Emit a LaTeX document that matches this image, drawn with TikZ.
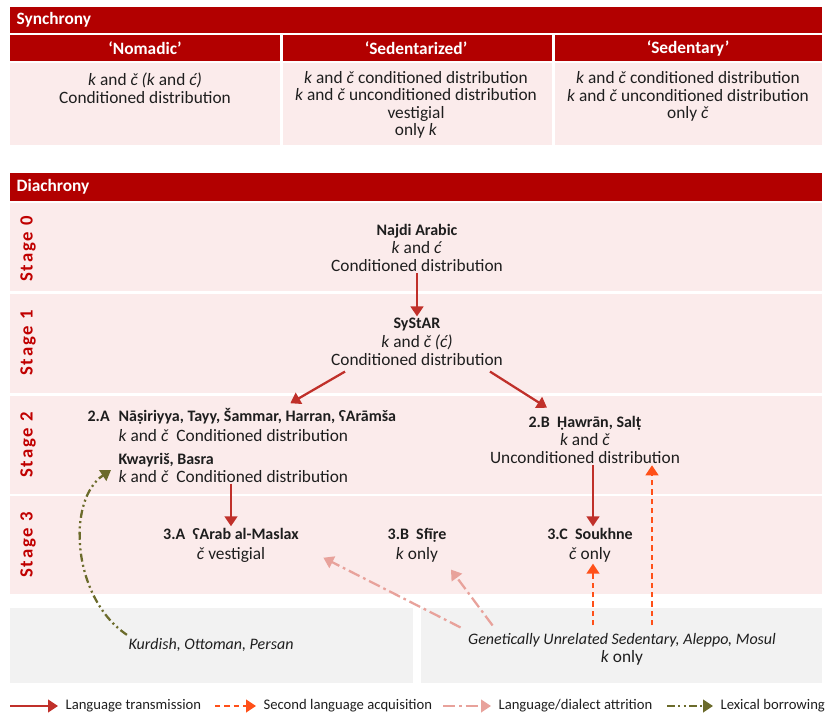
\documentclass[tikz,border=0pt]{standalone}
\usepackage{fontspec}
\setmainfont{Carlito}
\usetikzlibrary{arrows.meta,calc}

\definecolor{hdrred}{HTML}{B20000}
\definecolor{rowpink}{HTML}{FBEBEB}
\definecolor{boxgrey}{HTML}{F2F2F2}
\definecolor{stagered}{HTML}{C00000}
\definecolor{transred}{HTML}{C0302A}
\definecolor{acqorange}{HTML}{FF5019}
\definecolor{attrpink}{HTML}{E8A29B}
\definecolor{borrolive}{HTML}{6B6B2B}
\definecolor{inkgrey}{HTML}{1E1E1E}

\newcommand{\dialect}[1]{{\fontsize{12}{13.5}\selectfont\bfseries #1}}
\newcommand{\contact}[1]{{\fontsize{12}{13.5}\selectfont\itshape #1}}

\tikzset{
  hdrtxt/.style={text=white,inner sep=1pt,font=\fontsize{13}{15}\selectfont\bfseries},
  stagelbl/.style={text=stagered,rotate=90,inner sep=1pt,font=\fontsize{14}{16}\selectfont\bfseries\addfontfeatures{LetterSpace=10}},
  txt/.style={text=inkgrey,align=center,inner sep=1pt,font=\fontsize{13}{13.5}\selectfont},
  legtxt/.style={text=inkgrey,inner sep=1pt,anchor=west,font=\fontsize{11}{13}\selectfont},
  tip/.style={-{Triangle[length=7.5pt,width=9.5pt]}},
  trans/.style={tip,draw=transred,line width=1.7pt},
  acq/.style={tip,draw=acqorange,line width=1.7pt,dash pattern=on 4pt off 3pt},
  attr/.style={tip,draw=attrpink,line width=1.7pt,dash pattern=on 9pt off 3pt on 2pt off 3pt},
  borr/.style={tip,draw=borrolive,line width=1.7pt,dash pattern=on 6pt off 2.5pt on 1.5pt off 2.5pt on 1.5pt off 2.5pt}
}

\begin{document}
\begin{tikzpicture}[x=0.75pt,y=-0.75pt]
  \useasboundingbox (0,0) rectangle (825,715);

  % synchrony table
  \fill[hdrred] (10,7) rectangle (822,33);
  \foreach \xa/\xb in {10/280,283/552,555/822}
  {
    \fill[hdrred] (\xa,35) rectangle (\xb,61);
    \fill[rowpink] (\xa,63) rectangle (\xb,145);
  }
  \node[hdrtxt,anchor=west] (sync) at (15,20) {Synchrony};
  \node[hdrtxt] (nomHd) at (145,48) {‘Nomadic’};
  \node[hdrtxt] (sedzHd) at (416,48) {‘Sedentarized’};
  \node[hdrtxt] (sedHd) at (688,48) {‘Sedentary’};

  \node[txt] (nomTx) at (145,88) {\textit{k} and \textit{č (k} and \textit{ć)}\\Conditioned distribution};
  \node[txt,font=\fontsize{13}{13}\selectfont] (sedzTx) at (416,105)
    {\textit{k} and \textit{č} conditioned distribution\\\textit{k} and \textit{č} unconditioned distribution\\vestigial\\only \textit{k}};
  \node[txt,font=\fontsize{13}{13}\selectfont] (sedTx) at (688,96.5)
    {\textit{k} and \textit{č} conditioned distribution\\\textit{k} and \textit{č} unconditioned distribution\\only \textit{č}};

  % diachrony rows
  \fill[hdrred] (10,173) rectangle (822,201);
  \node[hdrtxt,anchor=west] (diach) at (15,187) {Diachrony};
  \foreach \ya/\yb in {203/291,294/393,396/494,496/594}
    \fill[rowpink] (10,\ya) rectangle (822,\yb);
  \fill[boxgrey] (10,608) rectangle (413,683);
  \fill[boxgrey] (421,608) rectangle (822,683);
  \foreach \n/\y in {0/249,1/343,2/445,3/545}
    \node[stagelbl] (stage\n) at (28,\y) {Stage \n};

  % stage 0 and 1
  \node[txt] (najdi) at (417,248) {\dialect{Najdi Arabic}\\\textit{k} and \textit{ć}\\Conditioned distribution};
  \node[txt] (systar) at (417,342) {\dialect{SyStAR}\\[1pt]\textit{k} and \textit{č (ć)}\\Conditioned distribution};

  % stage 2
  \node[txt,anchor=base west] (twoAtag) at (86,421) {\dialect{2.A}};
  \node[txt,anchor=base west] (twoAname) at (117,421) {\dialect{Nāṣiriyya, Tayy, Šammar, Harran, ʕArāmša}};
  \node[txt,anchor=base west] (twoAdist) at (117,441) {\textit{k} and \textit{č}\ \ Conditioned distribution};
  \node[txt,anchor=base west] (kwa) at (117,464) {\dialect{Kwayriš, Basra}};
  \node[txt,anchor=base west] (kwadist) at (117,482) {\textit{k} and \textit{č}\ \ Conditioned distribution};
  \node[txt] (twoB) at (585,440) {\dialect{2.B\ \ Ḥawrān, Salṭ}\\\textit{k} and \textit{č}\\Unconditioned distribution};

  % stage 3
  \node[txt] (threeA) at (231,545) {\dialect{3.A\ \ ʕArab al-Maslax}\\[1.5pt]\textit{č} vestigial};
  \node[txt] (threeB) at (417,545) {\dialect{3.B\ \ Sfīṛe}\\[1.5pt]\textit{k} only};
  \node[txt] (threeC) at (590,545) {\dialect{3.C\ \ Soukhne}\\[1.5pt]\textit{č} only};

  % contact languages
  \node[txt] (kurd) at (211,645) {\contact{Kurdish, Ottoman, Persan}};
  \node[txt] (genet) at (622,649) {\contact{Genetically Unrelated Sedentary, Aleppo, Mosul}\\\textit{k} only};

  % transmission
  \draw[trans] (najdi) -- (systar);
  \draw[trans] ($(systar.south)+(-72,4)$) -- ($(twoAname.north)+(33,-3)$);
  \draw[trans] ($(systar.south)+(73,4)$) -- ($(twoB.north)+(-38,-7)$);
  \draw[trans] (kwadist.south -| threeA) -- (threeA.north);
  \draw[trans] ($(twoB.south)+(8,0)$) -- ($(threeC.north)+(3,0)$);

  % acquisition
  \coordinate (acqA) at ($(genet.north)+(-29,-6)$);
  \coordinate (acqB) at ($(genet.north)+(30,-6)$);
  \draw[acq] (acqA) -- (acqA |- threeC.south);
  \draw[acq] (acqB) -- (acqB |- twoB.south);

  % attrition
  \draw[attr] ($(genet.north west)+(-6,-4)$) -- ($(threeA.south east)+(23,-6)$);
  \draw[attr] ($(genet.north west)+(26,-6)$) -- ($(threeB.south east)+(3,6)$);

  % borrowing
  \draw[borr] ($(kurd.north west)+(0,-2)$) .. controls (72,598) and (66,500) .. ($(kwadist.west)+(-6,-6)$);

  % legend
  \foreach \sty/\xa/\xb/\txt [count=\n] in {trans/10/58/{Language transmission},acq/215/256/{Second language acquisition},attr/443/491/{Language/dialect attrition},borr/667/713/{Lexical borrowing}}
  {
    \coordinate (lg\n) at (\xa,706);
    \node[legtxt] (lgt\n) at (\xb+6,706) {\txt};
    \draw[\sty,shorten >=4.5pt] (lg\n) -- (lgt\n.west);
  }
\end{tikzpicture}
\end{document}
